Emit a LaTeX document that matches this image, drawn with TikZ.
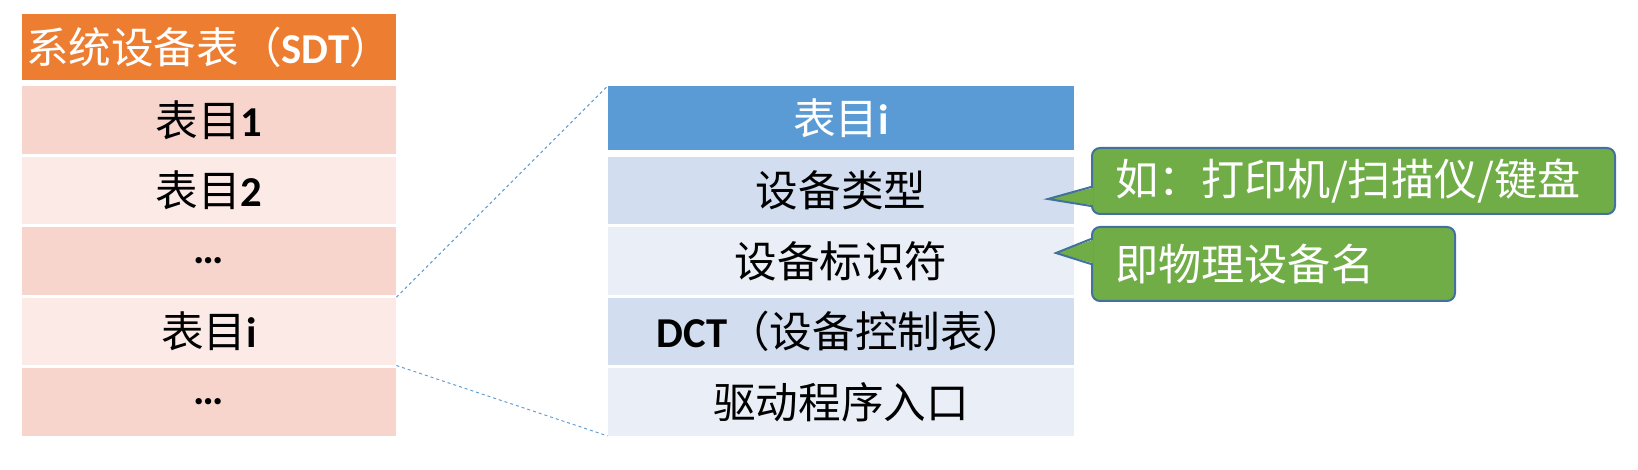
\documentclass[tikz,border=0pt]{standalone}
\usepackage{fontspec}
\setmainfont{Noto Sans CJK SC}
\newfontfamily\lat{Carlito}
\usepackage{tikz}
\usetikzlibrary{calc}
\definecolor{sdtorange}{HTML}{ED7D31}
\definecolor{rowdark}{HTML}{F8D5CC}
\definecolor{rowlight}{HTML}{FBEAE6}
\definecolor{dctblue}{HTML}{5B9BD5}
\definecolor{dctdark}{HTML}{D2DEEF}
\definecolor{dctlight}{HTML}{EAEFF7}
\definecolor{notegreen}{HTML}{70AD47}
\definecolor{noteedge}{HTML}{41719C}
\tikzstyle{cell} = [rectangle, inner sep=0pt, font=\fontsize{21.3}{25}\selectfont]
\tikzstyle{note} = [rectangle, rounded corners=4pt, draw=noteedge, line width=1pt, fill=notegreen, text=white, inner xsep=11.5pt, inner ysep=0pt, align=left, font=\fontsize{21.6}{25}\selectfont]
\tikzstyle{zoomline} = [dctblue, line width=0.5pt, dash pattern=on 1.5pt off 1.5pt]
\tikzstyle{pointer} = [noteedge, line width=1pt, line join=miter]

\begin{document}
\begin{tikzpicture}[x=0.5pt, y=-0.5pt]
    \useasboundingbox (0,0) rectangle (1638,470);
    % system device table
    \node[cell, fill=sdtorange, text=white, minimum width=187pt, minimum height=33pt] (sdt) at (209,47) {系统设备表（{\lat\bfseries SDT}）};
    \foreach \i/\c/\txt in {1/rowdark/{表目{\lat\bfseries 1}}, 2/rowlight/{表目{\lat\bfseries 2}}, 3/rowdark/{{\lat\bfseries …}}, 4/rowlight/{表目{\lat\bfseries i}}, 5/rowdark/{{\lat\bfseries …}}} {
        \node[cell, fill=\c, minimum width=187pt, minimum height=33.7pt] (e\i) at (209,{49.8+70.4*\i}) {\txt};
    }
    % entry i in detail
    \node[cell, fill=dctblue, text=white, minimum width=233pt, minimum height=32pt] (ti) at (841,118.5) {表目{\lat\bfseries i}};
    \foreach \i/\c/\txt in {1/dctdark/{设备类型}, 2/dctlight/{设备标识符}, 3/dctdark/{{\lat\bfseries DCT}（设备控制表）}, 4/dctlight/{驱动程序入口}} {
        \node[cell, fill=\c, minimum width=233pt, minimum height=33.7pt] (f\i) at (841,{120.2+70.4*\i}) {\txt};
    }
    \draw[zoomline] (e4.north east) -- (ti.north west);
    \draw[zoomline] (e4.south east) -- (f4.south west);
    % callouts
    \node[note, text width=238.5pt, minimum height=33pt] (n1) at (1353.5,181) {如：打印机/扫描仪/键盘};
    \node[note, text width=158.5pt, minimum height=37pt] (n2) at (1273.5,264) {即物理设备名};
    \coordinate (p1) at (1048,199);
    \coordinate (p2) at (1056,253);
    \fill[notegreen] ($(n1.west)+(2,6.8)$) -- (p1) -- ($(n1.west)+(2,24.2)$) -- cycle;
    \draw[pointer] ($(n1.west)+(0,6)$) -- (p1) -- ($(n1.west)+(0,25)$);
    \fill[notegreen] ($(n2.west)+(2,-24.2)$) -- (p2) -- ($(n2.west)+(2,-0.8)$) -- cycle;
    \draw[pointer] ($(n2.west)+(0,-25)$) -- (p2) -- ($(n2.west)+(0,0)$);
\end{tikzpicture}
\end{document}
